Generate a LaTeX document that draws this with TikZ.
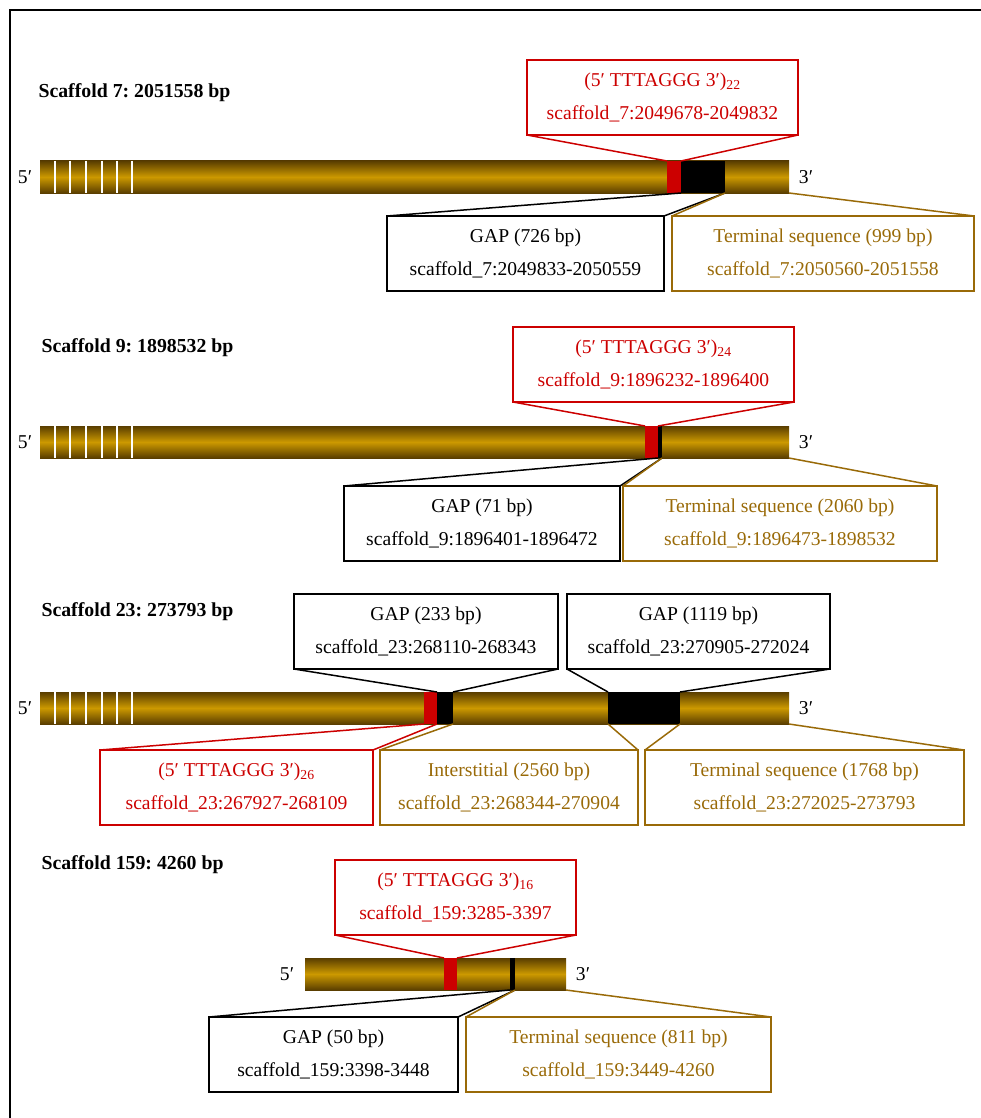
\documentclass[tikz,border=0pt]{standalone}
\usepackage{fontspec}
\setmainfont{Liberation Serif}
\usepackage{tikz}
\definecolor{telred}{RGB}{204,0,0}
\definecolor{termbrown}{RGB}{153,106,8}
\definecolor{bargold}{RGB}{204,153,0}
\definecolor{bardark}{RGB}{90,62,0}
\frenchspacing

\begin{document}
\begin{tikzpicture}[x=1pt, y=-1pt,
    scafname/.style={anchor=west, font=\bfseries\fontsize{19.8}{23}\selectfont},
    endlab/.style={font=\fontsize{19.6}{23}\selectfont},
    chrom/.style={anchor=north west, inner sep=0pt, outer sep=0pt, minimum height=32pt, top color=bardark, bottom color=bardark, middle color=bargold},
    telo/.style={anchor=north west, inner sep=0pt, outer sep=0pt, minimum height=32pt, fill=telred},
    gapseg/.style={anchor=north west, inner sep=0pt, outer sep=0pt, minimum height=32pt, fill=black},
    info/.style={draw, line width=1.5pt, anchor=north west, inner sep=0pt, outer sep=0pt, minimum height=75pt, align=center, font=\fontsize{19.6}{33}\selectfont},
    telbox/.style={info, draw=telred, text=telred},
    gapbox/.style={info, draw=black},
    termbox/.style={info, draw=termbrown, text=termbrown},
    telline/.style={line width=1.5pt, telred},
    gapline/.style={line width=1.5pt, black},
    termline/.style={line width=1.5pt, termbrown},
    stripe/.style={white, line width=1.6pt}
]
\useasboundingbox (0,0) rectangle (981,1118);
\draw[line width=1.2pt] (10,1118) -- (10,10) -- (981,10);

\node[scafname] (name7) at (35,93) {Scaffold 7: 2051558 bp};
\node[chrom, minimum width=749pt] (bar7) at (40,161) {};
\foreach \x in {55,70,86,102,117,132} \draw[stripe] (\x,161) -- (\x,193);
\node[endlab] (five7) at (25,177) {5′};
\node[endlab] (three7) at (806,177) {3′};
\node[telo, minimum width=14pt] (tel7) at (667,161) {};
\node[gapseg, minimum width=44pt] (gap7) at (681,161) {};
\node[telbox, minimum width=271pt] (telbox7) at (527,60) {(5′ TTTAGGG 3′)\textsubscript{22}\\scaffold\_7:2049678-2049832};
\node[gapbox, minimum width=277pt] (gapbox7) at (387,216) {GAP (726 bp)\\scaffold\_7:2049833-2050559};
\node[termbox, minimum width=302pt] (termbox7) at (672,216) {Terminal sequence (999 bp)\\scaffold\_7:2050560-2051558};
\draw[telline] (telbox7.south west) -- (tel7.north west);
\draw[telline] (telbox7.south east) -- (tel7.north east);
\draw[gapline] (gap7.south west) -- (gapbox7.north west);
\draw[gapline] (gap7.south east) -- (gapbox7.north east);
\draw[termline] (gap7.south east) -- (termbox7.north west);
\draw[termline] (bar7.south east) -- (termbox7.north east);

\node[scafname] (name9) at (38,348) {Scaffold 9: 1898532 bp};
\node[chrom, minimum width=749pt] (bar9) at (40,426) {};
\foreach \x in {55,70,86,102,117,132} \draw[stripe] (\x,426) -- (\x,458);
\node[endlab] (five9) at (25,442) {5′};
\node[endlab] (three9) at (806,442) {3′};
\node[telo, minimum width=13pt] (tel9) at (645,426) {};
\node[gapseg, minimum width=4pt] (gap9) at (658,426) {};
\node[telbox, minimum width=281pt] (telbox9) at (513,327) {(5′ TTTAGGG 3′)\textsubscript{24}\\scaffold\_9:1896232-1896400};
\node[gapbox, minimum width=276pt] (gapbox9) at (344,486) {GAP (71 bp)\\scaffold\_9:1896401-1896472};
\node[termbox, minimum width=314pt] (termbox9) at (623,486) {Terminal sequence (2060 bp)\\scaffold\_9:1896473-1898532};
\draw[telline] (telbox9.south west) -- (tel9.north west);
\draw[telline] (telbox9.south east) -- (tel9.north east);
\draw[gapline] (gap9.south west) -- (gapbox9.north west);
\draw[gapline] (gap9.south east) -- (gapbox9.north east);
\draw[termline] (gap9.south east) -- (termbox9.north west);
\draw[termline] (bar9.south east) -- (termbox9.north east);

\node[scafname] (name23) at (38,612) {Scaffold 23: 273793 bp};
\node[chrom, minimum width=749pt] (bar23) at (40,692) {};
\foreach \x in {55,70,86,102,117,132} \draw[stripe] (\x,692) -- (\x,724);
\node[endlab] (five23) at (25,708) {5′};
\node[endlab] (three23) at (806,708) {3′};
\node[telo, minimum width=13pt] (tel23) at (424,692) {};
\node[gapseg, minimum width=16pt] (gapa23) at (437,692) {};
\node[gapseg, minimum width=72pt] (gapb23) at (608,692) {};
\node[gapbox, minimum width=264pt] (gapboxa23) at (294,594) {GAP (233 bp)\\scaffold\_23:268110-268343};
\node[gapbox, minimum width=263pt] (gapboxb23) at (567,594) {GAP (1119 bp)\\scaffold\_23:270905-272024};
\node[telbox, minimum width=273pt] (telbox23) at (100,750) {(5′ TTTAGGG 3′)\textsubscript{26}\\scaffold\_23:267927-268109};
\node[termbox, minimum width=258pt] (interbox23) at (380,750) {Interstitial (2560 bp)\\scaffold\_23:268344-270904};
\node[termbox, minimum width=319pt] (termbox23) at (645,750) {Terminal sequence (1768 bp)\\scaffold\_23:272025-273793};
\draw[gapline] (gapboxa23.south west) -- (gapa23.north west);
\draw[gapline] (gapboxa23.south east) -- (gapa23.north east);
\draw[gapline] (gapboxb23.south west) -- (gapb23.north west);
\draw[gapline] (gapboxb23.south east) -- (gapb23.north east);
\draw[telline] (tel23.south west) -- (telbox23.north west);
\draw[telline] (tel23.south east) -- (telbox23.north east);
\draw[termline] (gapa23.south east) -- (interbox23.north west);
\draw[termline] (gapb23.south west) -- (interbox23.north east);
\draw[termline] (gapb23.south east) -- (termbox23.north west);
\draw[termline] (bar23.south east) -- (termbox23.north east);

\node[scafname] (name159) at (38,865) {Scaffold 159: 4260 bp};
\node[chrom, minimum width=261pt] (bar159) at (305,958) {};
\node[endlab] (five159) at (287,974) {5′};
\node[endlab] (three159) at (583,974) {3′};
\node[telo, minimum width=13pt] (tel159) at (444,958) {};
\node[gapseg, minimum width=5pt] (gap159) at (510,958) {};
\node[telbox, minimum width=241pt] (telbox159) at (335,860) {(5′ TTTAGGG 3′)\textsubscript{16}\\scaffold\_159:3285-3397};
\node[gapbox, minimum width=249pt] (gapbox159) at (209,1017) {GAP (50 bp)\\scaffold\_159:3398-3448};
\node[termbox, minimum width=305pt] (termbox159) at (466,1017) {Terminal sequence (811 bp)\\scaffold\_159:3449-4260};
\draw[telline] (telbox159.south west) -- (tel159.north west);
\draw[telline] (telbox159.south east) -- (tel159.north east);
\draw[gapline] (gap159.south west) -- (gapbox159.north west);
\draw[gapline] (gap159.south east) -- (gapbox159.north east);
\draw[termline] (gap159.south east) -- (termbox159.north west);
\draw[termline] (bar159.south east) -- (termbox159.north east);
\end{tikzpicture}
\end{document}
